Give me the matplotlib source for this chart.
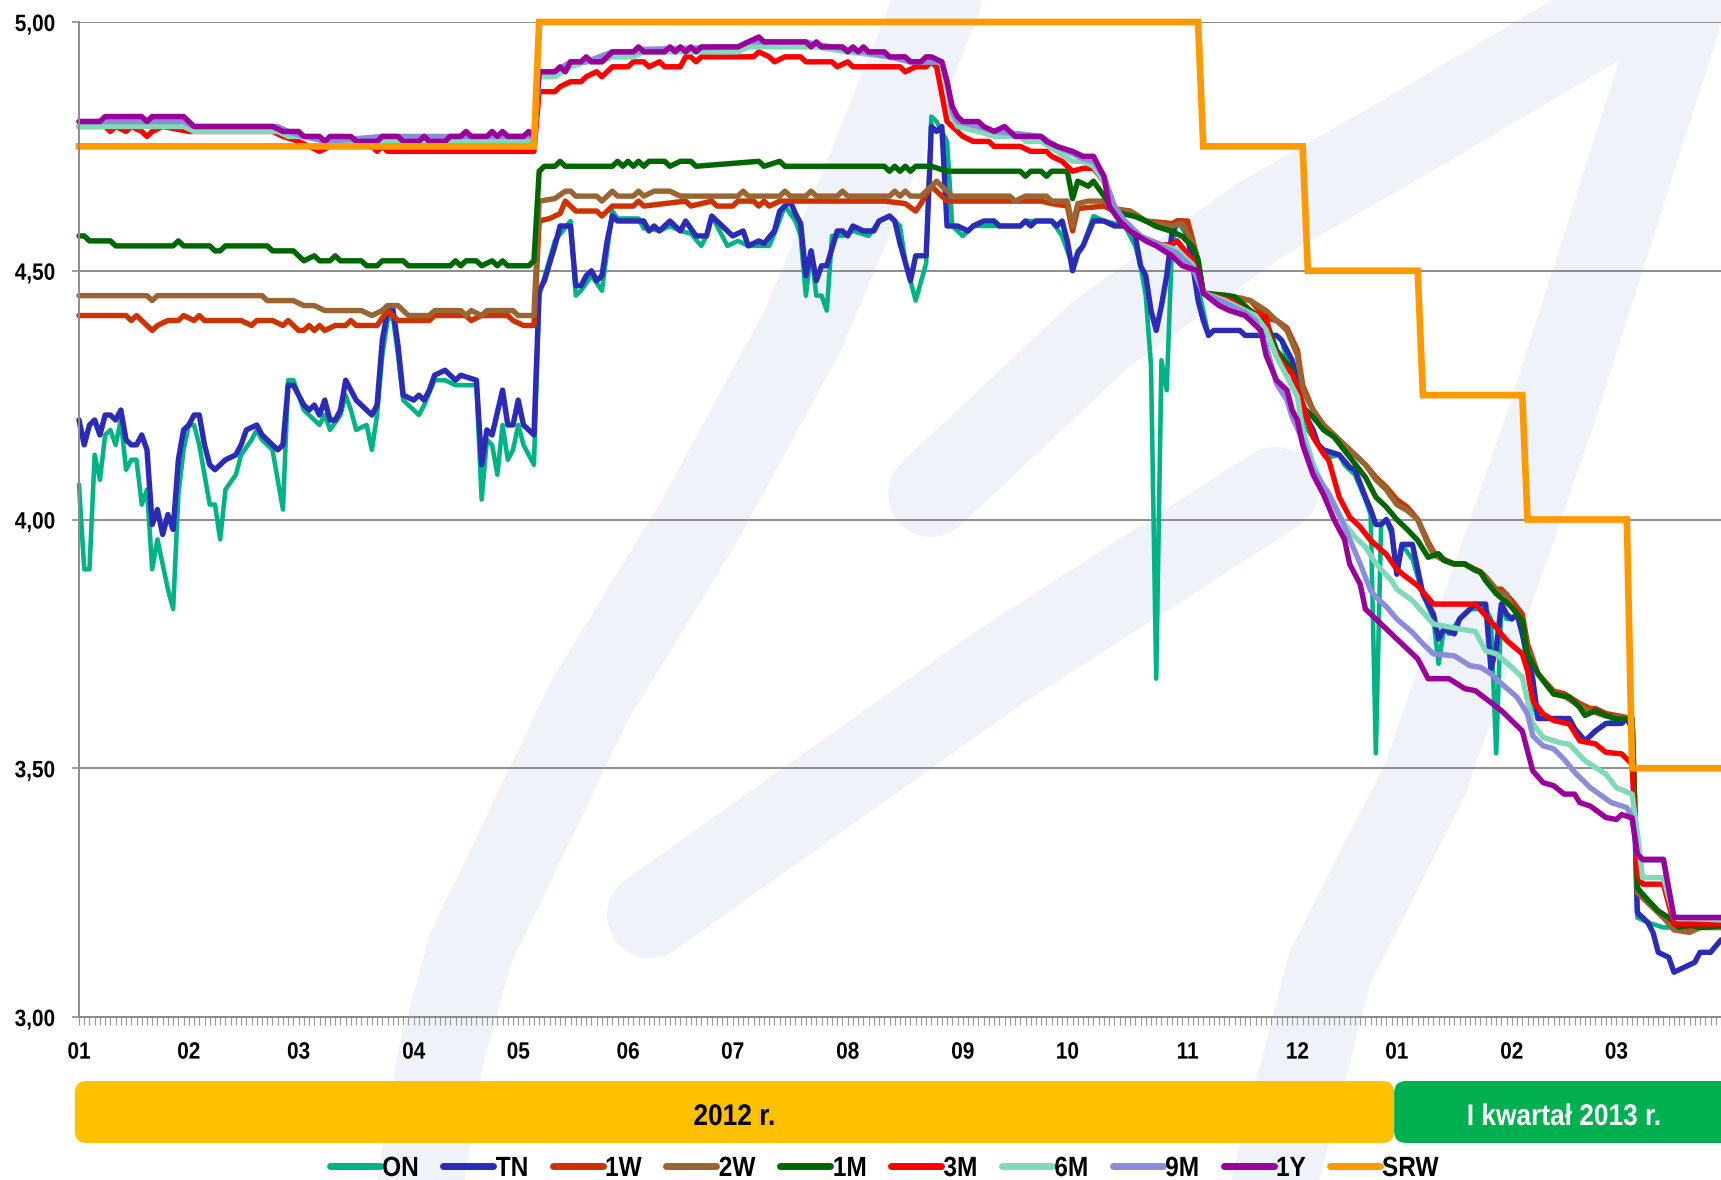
import numpy as np
import pandas as pd
import matplotlib
matplotlib.use("Agg")
import matplotlib.pyplot as plt
import matplotlib.transforms as mtransforms
from matplotlib.patches import FancyBboxPatch
from matplotlib.lines import Line2D
from matplotlib.patheffects import AbstractPathEffect

plt.rcParams["font.family"] = ["Liberation Sans", "DejaVu Sans"]
plt.rcParams["font.weight"] = "bold"


class Narrow(AbstractPathEffect):
    """Draws text squeezed horizontally (narrow face look)."""

    def __init__(self, sx=0.88, anchor="center"):
        super().__init__()
        self.sx = sx
        self.anchor = anchor

    def draw_path(self, renderer, gc, tpath, affine, rgbFace=None):
        ext = tpath.get_extents()
        if self.anchor == "left":
            x0 = ext.x0
        elif self.anchor == "right":
            x0 = ext.x1
        else:
            x0 = (ext.x0 + ext.x1) / 2
        squeeze = mtransforms.Affine2D().translate(-x0, 0).scale(self.sx, 1).translate(x0, 0)
        renderer.draw_path(gc, tpath, squeeze + affine, rgbFace)


# trading sessions 2012 - Q1 2013 (Polish market holidays removed)
holidays = ["2012-01-06", "2012-04-09", "2012-05-01", "2012-05-03", "2012-06-07",
            "2012-08-15", "2012-11-01", "2012-12-25", "2012-12-26", "2013-01-01"]
days = pd.bdate_range("2012-01-02", "2013-03-29")
days = days[~days.isin(pd.to_datetime(holidays))]

# rates as (session number, %)
on_pts = [(0, 4.07), (1, 3.90), (2, 3.90), (3, 4.13), (4, 4.08), (5, 4.17), (6, 4.18), (7, 4.15),
          (8, 4.20), (9, 4.10), (10, 4.12), (11, 4.12), (12, 4.03), (13, 4.06), (14, 3.90), (15, 3.96),
          (17, 3.86), (18, 3.82), (19, 4.05), (20, 4.14), (21, 4.19), (22, 4.19), (23, 4.15), (24, 4.09),
          (25, 4.03), (26, 4.03), (27, 3.96), (28, 4.06), (30, 4.09), (31, 4.13), (33, 4.16), (34, 4.18),
          (35, 4.16), (37, 4.14), (38, 4.08), (39, 4.02), (40, 4.28), (41, 4.28), (43, 4.22), (45, 4.20),
          (46, 4.19), (47, 4.21), (48, 4.18), (50, 4.21), (51, 4.25), (52, 4.22), (53, 4.18), (55, 4.19),
          (56, 4.14), (57, 4.21), (58, 4.33), (59, 4.40), (60, 4.41), (61, 4.33), (62, 4.24), (64, 4.22),
          (65, 4.21), (66, 4.23), (68, 4.28), (70, 4.28), (72, 4.27), (76, 4.27), (77, 4.04), (78, 4.16),
          (79, 4.15), (80, 4.09), (81, 4.19), (82, 4.12), (83, 4.14), (84, 4.19), (85, 4.15), (86, 4.13),
          (87, 4.11), (88, 4.45), (91, 4.56), (94, 4.60), (95, 4.45), (96, 4.46), (98, 4.49), (99, 4.475),
          (100, 4.46), (102, 4.62), (103, 4.605), (107, 4.605), (108, 4.585), (109, 4.585), (111, 4.58),
          (113, 4.59), (115, 4.58), (117, 4.575), (119, 4.55), (120, 4.57), (121, 4.61), (124, 4.55),
          (126, 4.56), (128, 4.55), (132, 4.55), (133, 4.575), (135, 4.63), (137, 4.60), (138, 4.57),
          (139, 4.45), (140, 4.54), (141, 4.45), (142, 4.45), (143, 4.42), (144, 4.57), (146, 4.57),
          (148, 4.58), (151, 4.57), (153, 4.60), (155, 4.61), (157, 4.59), (158, 4.52), (160, 4.44),
          (162, 4.515), (163, 4.81), (164, 4.80), (166, 4.76), (167, 4.59), (169, 4.57), (171, 4.59),
          (180, 4.59), (181, 4.60), (186, 4.60), (188, 4.57), (190, 4.51), (191, 4.54), (192, 4.55),
          (194, 4.61), (196, 4.60), (200, 4.59), (202, 4.55), (203, 4.51), (204, 4.45), (205, 4.31),
          (206, 3.68), (207, 4.32), (208, 4.26), (209, 4.55), (210, 4.60), (212, 4.57), (213, 4.51),
          (215, 4.42), (216, 4.37), (217, 4.38), (222, 4.38), (223, 4.37), (229, 4.37), (230, 4.36),
          (231, 4.32), (233, 4.28), (234, 4.22), (235, 4.18), (237, 4.15), (239, 4.125), (241, 4.13),
          (242, 4.11), (244, 4.09), (246, 4.04), (247, 4.01), (248, 3.53), (249, 3.99), (250, 4.00),
          (251, 3.97), (252, 3.89), (253, 3.95), (255, 3.92), (257, 3.85), (259, 3.80), (260, 3.71),
          (261, 3.78), (262, 3.77), (264, 3.80), (265, 3.81), (266, 3.82), (269, 3.82), (270, 3.80),
          (271, 3.53), (272, 3.83), (273, 3.80), (274, 3.80), (275, 3.81), (276, 3.77), (278, 3.63),
          (279, 3.60), (284, 3.60), (286, 3.58), (288, 3.555), (290, 3.575), (292, 3.59), (296, 3.60),
          (297, 3.58), (298, 3.20), (300, 3.19), (303, 3.18), (314, 3.18)]

tn_pts = [(0, 4.20), (1, 4.15), (2, 4.19), (3, 4.20), (4, 4.17), (5, 4.21), (6, 4.21), (7, 4.20),
          (8, 4.22), (9, 4.16), (10, 4.15), (11, 4.15), (12, 4.17), (13, 4.14), (14, 3.99), (15, 4.02),
          (16, 3.97), (17, 4.01), (18, 3.98), (19, 4.12), (20, 4.18), (21, 4.19), (22, 4.21), (23, 4.21),
          (24, 4.15), (25, 4.11), (26, 4.10), (28, 4.12), (30, 4.13), (31, 4.15), (32, 4.18), (34, 4.19),
          (35, 4.17), (36, 4.16), (38, 4.14), (39, 4.15), (40, 4.27), (41, 4.27), (43, 4.23), (44, 4.22),
          (45, 4.23), (46, 4.21), (47, 4.24), (48, 4.20), (49, 4.20), (50, 4.22), (51, 4.28), (53, 4.24),
          (54, 4.23), (56, 4.21), (57, 4.23), (58, 4.36), (59, 4.42), (60, 4.425), (61, 4.35), (62, 4.25),
          (64, 4.24), (65, 4.25), (66, 4.24), (67, 4.26), (68, 4.29), (70, 4.30), (72, 4.28), (73, 4.29),
          (76, 4.28), (77, 4.11), (78, 4.18), (79, 4.17), (81, 4.26), (82, 4.19), (83, 4.19), (84, 4.24),
          (85, 4.19), (86, 4.18), (87, 4.17), (88, 4.46), (89, 4.48), (91, 4.55), (92, 4.59), (94, 4.59),
          (95, 4.47), (96, 4.47), (97, 4.49), (98, 4.50), (99, 4.48), (100, 4.49), (101, 4.56), (102, 4.61),
          (103, 4.60), (108, 4.60), (109, 4.58), (110, 4.59), (111, 4.58), (113, 4.60), (115, 4.58),
          (116, 4.60), (118, 4.57), (120, 4.57), (121, 4.61), (122, 4.60), (124, 4.58), (125, 4.57),
          (127, 4.58), (128, 4.55), (130, 4.56), (131, 4.555), (133, 4.58), (134, 4.62), (136, 4.64),
          (137, 4.615), (138, 4.595), (139, 4.49), (140, 4.54), (141, 4.48), (142, 4.51), (143, 4.51),
          (145, 4.58), (146, 4.58), (147, 4.57), (148, 4.59), (150, 4.58), (152, 4.58), (153, 4.60),
          (155, 4.61), (156, 4.60), (157, 4.555), (159, 4.48), (160, 4.53), (162, 4.53), (163, 4.79),
          (164, 4.78), (165, 4.79), (166, 4.59), (168, 4.59), (170, 4.58), (171, 4.59), (173, 4.60),
          (175, 4.60), (176, 4.59), (180, 4.59), (181, 4.60), (182, 4.59), (183, 4.60), (186, 4.60),
          (187, 4.59), (188, 4.60), (189, 4.56), (190, 4.50), (191, 4.535), (192, 4.55), (194, 4.60),
          (196, 4.60), (198, 4.59), (201, 4.59), (202, 4.57), (203, 4.51), (204, 4.49), (205, 4.42),
          (206, 4.38), (207, 4.43), (208, 4.49), (209, 4.575), (210, 4.60), (211, 4.60), (212, 4.57),
          (213, 4.51), (214, 4.44), (215, 4.40), (216, 4.37), (217, 4.38), (222, 4.38), (223, 4.37),
          (229, 4.37), (230, 4.36), (232, 4.32), (233, 4.28), (234, 4.22), (236, 4.18), (237, 4.15),
          (238, 4.14), (241, 4.13), (243, 4.105), (244, 4.10), (246, 4.045), (247, 4.02), (248, 3.99),
          (249, 3.99), (250, 4.00), (251, 3.98), (252, 3.89), (253, 3.95), (255, 3.95), (256, 3.90),
          (257, 3.85), (259, 3.81), (260, 3.76), (261, 3.78), (263, 3.77), (264, 3.80), (265, 3.81),
          (266, 3.82), (267, 3.83), (269, 3.83), (270, 3.70), (271, 3.74), (272, 3.83), (273, 3.81),
          (274, 3.80), (275, 3.81), (276, 3.77), (278, 3.68), (279, 3.60), (285, 3.60), (286, 3.58),
          (288, 3.555), (290, 3.575), (292, 3.59), (295, 3.59), (296, 3.60), (297, 3.58), (298, 3.21),
          (300, 3.19), (301, 3.17), (302, 3.13), (304, 3.12), (305, 3.09), (307, 3.10), (309, 3.11),
          (310, 3.13), (312, 3.13), (314, 3.155)]

w1_pts = [(0, 4.41), (9, 4.41), (10, 4.40), (11, 4.41), (13, 4.39), (14, 4.38), (15, 4.39), (17, 4.40),
          (19, 4.40), (20, 4.41), (22, 4.40), (23, 4.41), (24, 4.40), (31, 4.40), (33, 4.39), (34, 4.40),
          (37, 4.40), (39, 4.39), (40, 4.40), (42, 4.38), (43, 4.38), (44, 4.39), (45, 4.38), (46, 4.39),
          (47, 4.38), (49, 4.39), (51, 4.39), (52, 4.40), (53, 4.39), (57, 4.39), (59, 4.42), (61, 4.40),
          (67, 4.40), (68, 4.41), (74, 4.41), (75, 4.40), (77, 4.41), (82, 4.41), (83, 4.40), (85, 4.39),
          (87, 4.39), (88, 4.60), (90, 4.605), (92, 4.615), (93, 4.64), (95, 4.62), (99, 4.62), (100, 4.61),
          (102, 4.63), (106, 4.63), (107, 4.64), (108, 4.63), (116, 4.64), (117, 4.63), (121, 4.64),
          (122, 4.63), (125, 4.63), (126, 4.64), (129, 4.64), (130, 4.63), (131, 4.64), (132, 4.63),
          (134, 4.64), (154, 4.64), (158, 4.635), (160, 4.62), (161, 4.635), (163, 4.67), (166, 4.64),
          (184, 4.64), (186, 4.635), (189, 4.63), (190, 4.58), (191, 4.625), (196, 4.63), (198, 4.62),
          (201, 4.62), (204, 4.60), (209, 4.595), (210, 4.60), (212, 4.60), (213, 4.56), (214, 4.52),
          (215, 4.455), (218, 4.45), (222, 4.445), (224, 4.44), (227, 4.405), (229, 4.40), (231, 4.385),
          (233, 4.34), (234, 4.27), (236, 4.22), (238, 4.19), (241, 4.16), (243, 4.14), (246, 4.11),
          (248, 4.085), (250, 4.065), (252, 4.04), (254, 4.025), (256, 4.00), (258, 3.955), (259, 3.935),
          (261, 3.92), (263, 3.91), (265, 3.91), (267, 3.90), (268, 3.895), (269, 3.885), (271, 3.86),
          (272, 3.86), (274, 3.837), (276, 3.81), (277, 3.75), (279, 3.69), (282, 3.655), (284, 3.65),
          (287, 3.63), (289, 3.62), (290, 3.62), (292, 3.61), (297, 3.60), (298, 3.26), (299, 3.24),
          (303, 3.20), (305, 3.18), (308, 3.175), (310, 3.18), (314, 3.18)]

w2_pts = [(0, 4.45), (13, 4.45), (14, 4.44), (15, 4.45), (35, 4.45), (36, 4.44), (41, 4.44), (43, 4.43),
          (45, 4.43), (47, 4.42), (54, 4.42), (56, 4.41), (58, 4.42), (59, 4.43), (61, 4.43), (63, 4.41),
          (67, 4.41), (68, 4.42), (73, 4.42), (74, 4.41), (75, 4.42), (77, 4.41), (78, 4.42), (83, 4.42),
          (84, 4.41), (87, 4.41), (88, 4.64), (91, 4.645), (93, 4.66), (94, 4.66), (95, 4.65), (99, 4.65),
          (100, 4.64), (102, 4.66), (103, 4.65), (106, 4.65), (107, 4.66), (108, 4.65), (110, 4.66),
          (113, 4.66), (115, 4.65), (126, 4.65), (127, 4.66), (128, 4.65), (134, 4.65), (135, 4.66),
          (136, 4.65), (139, 4.65), (140, 4.66), (141, 4.65), (145, 4.65), (146, 4.66), (147, 4.65),
          (155, 4.65), (156, 4.66), (157, 4.65), (158, 4.66), (159, 4.65), (161, 4.65), (164, 4.68),
          (167, 4.65), (178, 4.65), (179, 4.64), (181, 4.65), (185, 4.65), (186, 4.64), (189, 4.64),
          (190, 4.59), (191, 4.635), (193, 4.64), (196, 4.64), (198, 4.625), (201, 4.62), (204, 4.60),
          (206, 4.595), (209, 4.59), (211, 4.595), (212, 4.575), (213, 4.555), (214, 4.515), (215, 4.455),
          (218, 4.45), (222, 4.445), (224, 4.44), (227, 4.42), (229, 4.40), (231, 4.38), (233, 4.33),
          (234, 4.26), (236, 4.22), (238, 4.19), (241, 4.16), (243, 4.14), (246, 4.11), (248, 4.08),
          (250, 4.06), (252, 4.03), (254, 4.018), (256, 4.00), (258, 3.95), (259, 3.93), (261, 3.918),
          (263, 3.91), (265, 3.91), (267, 3.898), (268, 3.894), (269, 3.884), (271, 3.857), (273, 3.85),
          (274, 3.824), (276, 3.797), (277, 3.74), (279, 3.69), (282, 3.65), (284, 3.645), (287, 3.625),
          (289, 3.615), (292, 3.605), (297, 3.60), (298, 3.25), (300, 3.23), (303, 3.20), (305, 3.175),
          (308, 3.17), (310, 3.18), (314, 3.18)]

m1_pts = [(0, 4.57), (1, 4.57), (2, 4.56), (6, 4.56), (7, 4.55), (18, 4.55), (19, 4.56), (20, 4.55),
          (25, 4.55), (26, 4.54), (27, 4.54), (28, 4.55), (36, 4.55), (37, 4.54), (41, 4.54), (43, 4.52),
          (45, 4.53), (46, 4.52), (48, 4.52), (49, 4.53), (50, 4.52), (54, 4.52), (55, 4.51), (57, 4.51),
          (58, 4.52), (62, 4.52), (63, 4.51), (71, 4.51), (72, 4.52), (73, 4.51), (74, 4.52), (76, 4.52),
          (77, 4.51), (79, 4.52), (80, 4.51), (81, 4.52), (82, 4.51), (86, 4.51), (87, 4.52), (88, 4.70),
          (89, 4.71), (91, 4.71), (92, 4.72), (93, 4.71), (102, 4.71), (103, 4.72), (104, 4.71),
          (105, 4.72), (106, 4.71), (107, 4.72), (108, 4.71), (109, 4.72), (112, 4.72), (113, 4.71),
          (115, 4.72), (117, 4.72), (118, 4.71), (130, 4.72), (131, 4.71), (134, 4.72), (135, 4.71),
          (154, 4.71), (155, 4.70), (156, 4.71), (157, 4.70), (158, 4.71), (159, 4.70), (160, 4.71),
          (163, 4.71), (166, 4.70), (180, 4.70), (181, 4.69), (182, 4.70), (184, 4.70), (185, 4.69),
          (186, 4.70), (189, 4.70), (190, 4.645), (191, 4.68), (193, 4.67), (194, 4.68), (195, 4.665),
          (197, 4.636), (199, 4.616), (202, 4.609), (204, 4.60), (206, 4.589), (209, 4.579), (211, 4.569),
          (213, 4.548), (214, 4.522), (215, 4.455), (219, 4.451), (221, 4.448), (224, 4.42), (227, 4.40),
          (229, 4.34), (232, 4.30), (234, 4.226), (236, 4.206), (238, 4.18), (240, 4.166), (242, 4.139),
          (244, 4.112), (246, 4.085), (248, 4.045), (250, 4.025), (252, 4.00), (254, 3.98), (256, 3.958),
          (258, 3.924), (260, 3.931), (261, 3.918), (263, 3.911), (265, 3.911), (267, 3.898), (268, 3.894),
          (269, 3.877), (271, 3.851), (274, 3.824), (276, 3.797), (277, 3.73), (279, 3.69), (282, 3.649),
          (285, 3.643), (287, 3.622), (288, 3.606), (290, 3.616), (292, 3.606), (294, 3.599), (297, 3.599),
          (298, 3.26), (299, 3.247), (302, 3.213), (304, 3.20), (306, 3.18), (308, 3.185), (310, 3.18),
          (314, 3.183)]

m3_pts = [(0, 4.79), (5, 4.79), (6, 4.78), (7, 4.79), (9, 4.78), (10, 4.79), (12, 4.78), (13, 4.77),
          (14, 4.78), (16, 4.79), (21, 4.78), (37, 4.78), (39, 4.77), (42, 4.76), (44, 4.75), (46, 4.74),
          (48, 4.75), (56, 4.75), (57, 4.74), (58, 4.75), (59, 4.74), (87, 4.74), (88, 4.86), (91, 4.86),
          (92, 4.87), (94, 4.88), (96, 4.88), (97, 4.89), (99, 4.90), (100, 4.89), (102, 4.91), (105, 4.91),
          (106, 4.92), (108, 4.92), (109, 4.91), (111, 4.92), (112, 4.91), (115, 4.91), (116, 4.93),
          (117, 4.93), (118, 4.92), (119, 4.93), (129, 4.93), (130, 4.94), (132, 4.93), (133, 4.92),
          (135, 4.93), (138, 4.93), (139, 4.92), (144, 4.92), (145, 4.91), (147, 4.92), (148, 4.91),
          (157, 4.91), (158, 4.90), (160, 4.91), (162, 4.91), (163, 4.92), (164, 4.91), (166, 4.80),
          (167, 4.79), (169, 4.77), (171, 4.76), (174, 4.76), (175, 4.75), (180, 4.75), (182, 4.74),
          (185, 4.74), (186, 4.73), (188, 4.72), (190, 4.70), (192, 4.706), (194, 4.706), (196, 4.68),
          (198, 4.63), (200, 4.59), (203, 4.568), (205, 4.56), (207, 4.552), (209, 4.552), (210, 4.56),
          (213, 4.52), (215, 4.455), (220, 4.441), (224, 4.414), (227, 4.408), (228, 4.354), (230, 4.314),
          (232, 4.293), (234, 4.233), (236, 4.166), (238, 4.132), (239, 4.119), (241, 4.045), (243, 4.005),
          (245, 3.985), (247, 3.958), (250, 3.93), (252, 3.90), (253, 3.891), (256, 3.867), (259, 3.83),
          (267, 3.83), (271, 3.783), (273, 3.757), (276, 3.73), (277, 3.696), (278, 3.636), (280, 3.609),
          (282, 3.596), (285, 3.589), (287, 3.555), (290, 3.549), (292, 3.532), (295, 3.529), (297, 3.508),
          (298, 3.29), (299, 3.267), (303, 3.267), (305, 3.187), (314, 3.187)]

m6_pts = [(0, 4.79), (20, 4.79), (22, 4.78), (38, 4.78), (40, 4.77), (45, 4.77), (47, 4.76), (87, 4.76),
          (88, 4.89), (91, 4.89), (94, 4.91), (97, 4.92), (100, 4.92), (102, 4.93), (106, 4.93),
          (108, 4.94), (126, 4.94), (128, 4.95), (141, 4.95), (147, 4.94), (155, 4.93), (159, 4.92),
          (165, 4.92), (166, 4.87), (167, 4.81), (168, 4.79), (172, 4.78), (175, 4.77), (180, 4.77),
          (181, 4.76), (184, 4.76), (187, 4.74), (190, 4.72), (192, 4.72), (194, 4.71), (196, 4.68),
          (198, 4.62), (200, 4.595), (203, 4.568), (206, 4.555), (210, 4.542), (213, 4.512), (215, 4.455),
          (219, 4.441), (223, 4.42), (225, 4.41), (227, 4.381), (229, 4.327), (231, 4.287), (233, 4.247),
          (234, 4.18), (236, 4.112), (238, 4.065), (240, 4.032), (242, 3.991), (244, 3.965), (246, 3.945),
          (248, 3.911), (251, 3.877), (252, 3.86), (255, 3.837), (259, 3.79), (264, 3.78), (267, 3.775),
          (269, 3.736), (271, 3.73), (274, 3.703), (276, 3.683), (278, 3.59), (280, 3.562), (283, 3.552),
          (285, 3.548), (288, 3.515), (292, 3.488), (294, 3.461), (297, 3.448), (298, 3.37), (299, 3.28),
          (303, 3.28), (305, 3.20), (314, 3.195)]

m9_pts = [(0, 4.80), (20, 4.80), (22, 4.79), (38, 4.79), (40, 4.78), (43, 4.77), (47, 4.76), (58, 4.77),
          (87, 4.77), (88, 4.90), (91, 4.90), (94, 4.92), (97, 4.92), (102, 4.94), (107, 4.94),
          (108, 4.945), (126, 4.95), (128, 4.96), (139, 4.96), (141, 4.955), (147, 4.945), (155, 4.93),
          (159, 4.92), (165, 4.92), (166, 4.88), (167, 4.82), (168, 4.80), (172, 4.79), (175, 4.78),
          (180, 4.775), (184, 4.77), (187, 4.75), (190, 4.735), (192, 4.725), (194, 4.72), (196, 4.69),
          (198, 4.63), (200, 4.60), (203, 4.57), (206, 4.555), (210, 4.535), (213, 4.505), (215, 4.455),
          (219, 4.436), (223, 4.416), (225, 4.40), (227, 4.35), (229, 4.273), (231, 4.24), (232, 4.206),
          (234, 4.16), (236, 4.099), (239, 4.052), (242, 3.985), (245, 3.911), (247, 3.857), (248, 3.844),
          (250, 3.825), (252, 3.80), (255, 3.773), (257, 3.75), (259, 3.73), (263, 3.726), (266, 3.706),
          (268, 3.703), (270, 3.69), (272, 3.67), (275, 3.643), (277, 3.609), (278, 3.565), (280, 3.545),
          (282, 3.539), (284, 3.518), (286, 3.492), (289, 3.461), (293, 3.431), (296, 3.421), (297, 3.401),
          (298, 3.327), (299, 3.315), (303, 3.315), (305, 3.20), (314, 3.20)]

y1_pts = [(0, 4.80), (4, 4.80), (5, 4.81), (12, 4.81), (13, 4.80), (14, 4.81), (20, 4.81), (21, 4.80),
          (22, 4.79), (37, 4.79), (39, 4.78), (42, 4.78), (43, 4.77), (46, 4.77), (47, 4.76), (48, 4.77),
          (52, 4.77), (53, 4.76), (57, 4.76), (58, 4.77), (61, 4.77), (62, 4.76), (65, 4.76), (66, 4.77),
          (67, 4.76), (70, 4.76), (71, 4.77), (73, 4.77), (74, 4.78), (75, 4.77), (78, 4.77), (79, 4.78),
          (80, 4.77), (81, 4.78), (82, 4.77), (85, 4.77), (86, 4.78), (87, 4.77), (88, 4.90), (91, 4.90),
          (92, 4.91), (93, 4.90), (94, 4.92), (96, 4.92), (97, 4.93), (98, 4.92), (100, 4.92), (102, 4.94),
          (106, 4.94), (107, 4.95), (108, 4.94), (112, 4.94), (113, 4.95), (114, 4.94), (115, 4.95),
          (116, 4.94), (117, 4.95), (118, 4.94), (119, 4.95), (126, 4.95), (128, 4.96), (130, 4.97),
          (131, 4.96), (139, 4.96), (140, 4.95), (141, 4.96), (142, 4.95), (146, 4.95), (147, 4.94),
          (148, 4.95), (149, 4.94), (150, 4.95), (151, 4.94), (154, 4.94), (155, 4.93), (158, 4.93),
          (159, 4.92), (161, 4.92), (162, 4.93), (163, 4.93), (165, 4.92), (166, 4.88), (167, 4.83),
          (168, 4.81), (169, 4.80), (172, 4.80), (173, 4.79), (175, 4.78), (177, 4.79), (179, 4.77),
          (184, 4.77), (185, 4.76), (187, 4.75), (190, 4.74), (192, 4.73), (194, 4.73), (196, 4.69),
          (197, 4.63), (199, 4.60), (201, 4.58), (204, 4.56), (206, 4.55), (209, 4.53), (211, 4.51),
          (214, 4.50), (215, 4.455), (218, 4.43), (220, 4.42), (223, 4.41), (225, 4.39), (226, 4.38),
          (227, 4.33), (229, 4.28), (231, 4.26), (232, 4.22), (233, 4.20), (234, 4.15), (236, 4.09),
          (238, 4.05), (240, 4.00), (242, 3.96), (243, 3.91), (245, 3.87), (246, 3.82), (248, 3.80),
          (250, 3.78), (252, 3.76), (254, 3.74), (256, 3.72), (258, 3.68), (262, 3.68), (265, 3.66),
          (267, 3.656), (269, 3.64), (272, 3.616), (276, 3.575), (278, 3.495), (280, 3.471), (282, 3.465),
          (284, 3.448), (286, 3.448), (287, 3.431), (289, 3.424), (292, 3.401), (294, 3.397), (295, 3.407),
          (297, 3.40), (298, 3.327), (299, 3.317), (303, 3.317), (305, 3.20), (314, 3.20)]

# rediscount rate: effective date, level
srw_changes = [("2012-01-02", 4.75), ("2012-05-09", 5.00), ("2012-11-07", 4.75), ("2012-12-05", 4.50),
               ("2013-01-09", 4.25), ("2013-02-06", 4.00), ("2013-03-06", 3.50)]

names = ["ON", "TN", "1W", "2W", "1M", "3M", "6M", "9M", "1Y", "SRW"]
colors = ["#00B386", "#2B2BB5", "#CC3300", "#996633", "#006600", "#FF0000",
          "#80D9B8", "#8C8CD9", "#990099", "#FF9900"]
series = [on_pts, tn_pts, w1_pts, w2_pts, m1_pts, m3_pts, m6_pts, m9_pts, y1_pts]

# SRW as a daily step line
srw_x, srw_y = [], []
last = len(days) - 1
for j, (d, v) in enumerate(srw_changes):
    k = days.get_loc(pd.Timestamp(d))
    if j > 0:
        srw_x.append(k - 1)
        srw_y.append(srw_changes[j - 1][1])
    srw_x.append(k)
    srw_y.append(v)
srw_x.append(last)
srw_y.append(srw_changes[-1][1])

W, H = 1721, 1180
fig = plt.figure(figsize=(W / 100, H / 100), dpi=100)
fig.patch.set_facecolor("white")
ident = mtransforms.IdentityTransform()

# faint background logo strokes (pixel coords, y measured from top)
logo = [[(418, 1200), (440, 1060), (470, 950), (590, 700), (700, 520), (803, 330), (870, 170), (950, -30)],
        [(650, 915), (1000, 667), (1275, 490)],
        [(931, 494), (1100, 335), (1260, 220), (1400, 140), (1620, 10)],
        [(1270, 1200), (1330, 967), (1425, 780), (1550, 420), (1620, 200), (1690, -20)]]
for stroke in logo:
    sx_, sy_ = zip(*stroke)
    fig.add_artist(Line2D(sx_, [H - v for v in sy_], transform=ident, color="#EFF2F8",
                          lw=62, solid_capstyle="round", solid_joinstyle="round", zorder=-10))

ax = fig.add_axes([79 / W, (H - 1017) / H, (W - 79) / W, (1017 - 22) / H])
ax.patch.set_alpha(0)

for pts, name, col in zip(series, names, colors):
    x, y = zip(*pts)
    lw = 3.3 if name == "ON" else 3.9
    ax.plot(x, y, color=col, lw=lw, solid_joinstyle="round", solid_capstyle="round", clip_on=False)
ax.plot(srw_x, srw_y, color=colors[-1], lw=4.8, solid_joinstyle="miter", clip_on=False)

ax.set_ylim(3.0, 5.0)
ax.set_xlim(0, 313.5)
yt = [3.0, 3.5, 4.0, 4.5, 5.0]
ax.set_yticks(yt)
ax.set_yticklabels([f"{v:.2f}".replace(".", ",") for v in yt])
ax.yaxis.grid(True, color="#8C8C8C", lw=1.4)
ax.set_axisbelow(True)

month_start = [i for i in range(len(days)) if i == 0 or days[i].month != days[i - 1].month]
ax.set_xticks(month_start)
ax.set_xticklabels([f"{days[i].month:02d}" for i in month_start])
ax.set_xticks(np.arange(len(days)), minor=True)

for s in ["top", "right"]:
    ax.spines[s].set_visible(False)
for s in ["left", "bottom"]:
    ax.spines[s].set_color("#8C8C8C")
    ax.spines[s].set_linewidth(1.4)

ax.tick_params(axis="y", length=5, width=1.2, color="#8C8C8C", pad=12, labelsize=17)
ax.tick_params(axis="x", which="major", length=6, width=0.8, color="#999999", pad=11, labelsize=17)
ax.tick_params(axis="x", which="minor", length=6, width=0.8, color="#999999")
for lab in ax.get_xticklabels():
    lab.set_fontweight("bold")
    lab.set_path_effects([Narrow(anchor="center")])
for lab in ax.get_yticklabels():
    lab.set_fontweight("bold")
    lab.set_path_effects([Narrow(anchor="right")])

# year bands under the axis
boundary = days.get_loc(pd.Timestamp("2013-01-02")) - 0.5
x_a = ax.transData.transform((-0.8, 0))[0]
x_b = ax.transData.transform((boundary, 0))[0]
x_c = ax.transData.transform((len(days) + 1.5, 0))[0]
y_top = H - 1081
y_bot = H - 1143
bands = [(x_a, x_b, "#FFC000", "2012 r.", "black"),
         (x_b, x_c, "#00B050", "I kwartał 2013 r.", "white")]
for xa, xb, fc, txt, tc in bands:
    fig.patches.append(FancyBboxPatch((xa, y_bot), xb - xa, y_top - y_bot,
                                      boxstyle="round,pad=0,rounding_size=12",
                                      transform=ident, facecolor=fc, edgecolor="none", figure=fig))
    t = fig.text((xa + xb) / 2, (y_top + y_bot) / 2 - 5, txt, transform=ident, ha="center",
                 va="center", fontsize=21.5, fontweight="bold", color=tc)
    t.set_path_effects([Narrow(anchor="center")])

handles = [Line2D([], [], color=c, lw=5, solid_capstyle="round") for c in colors]
leg = fig.legend(handles, names, loc="center", bbox_to_anchor=(888 / W, 1 - 1169 / H), ncol=10,
                 frameon=False, handlelength=1.8, handletextpad=0.08, columnspacing=0.72,
                 prop={"weight": "bold", "size": 20})
for t in leg.get_texts():
    t.set_path_effects([Narrow(anchor="left")])

fig.savefig("out.png", dpi=100)
